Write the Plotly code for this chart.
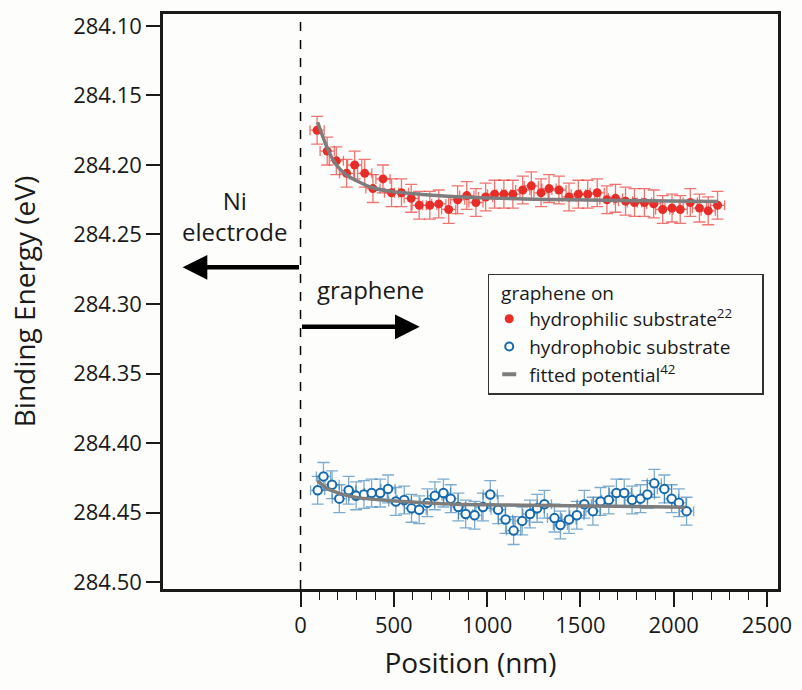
import plotly.graph_objects as go

# ---------------- data ----------------
red_x = [89, 143, 192, 247, 290, 344, 388, 442, 488, 541, 593, 636, 693, 741, 794,
         842, 891, 940, 992, 1040, 1090, 1138, 1191, 1237, 1289, 1332, 1385, 1439,
         1489, 1539, 1590, 1642, 1688, 1742, 1790, 1843, 1893, 1941, 1991, 2035,
         2089, 2138, 2185, 2235]
red_y = [284.175, 284.190, 284.197, 284.206, 284.200, 284.206, 284.217, 284.210,
         284.220, 284.220, 284.224, 284.229, 284.229, 284.228, 284.232, 284.225,
         284.222, 284.227, 284.223, 284.221, 284.221, 284.221, 284.218, 284.215,
         284.220, 284.217, 284.218, 284.223, 284.221, 284.221, 284.220, 284.225,
         284.224, 284.226, 284.227, 284.227, 284.228, 284.232, 284.231, 284.232,
         284.227, 284.231, 284.233, 284.229]
red_err_y = 0.010
red_err_x = 38

blue_x = [92, 123, 169, 208, 258, 298, 340, 381, 427, 469, 511, 556, 595, 636, 680,
          720, 766, 805, 846, 885, 933, 978, 1017, 1059, 1099, 1142, 1188, 1230,
          1268, 1307, 1361, 1393, 1439, 1481, 1521, 1567, 1608, 1652, 1693, 1735,
          1777, 1822, 1859, 1896, 1950, 1989, 2028, 2069]
blue_y = [284.434, 284.424, 284.430, 284.440, 284.434, 284.438, 284.437, 284.436,
          284.436, 284.433, 284.442, 284.441, 284.447, 284.448, 284.443, 284.438,
          284.436, 284.440, 284.446, 284.451, 284.452, 284.446, 284.437, 284.448,
          284.455, 284.463, 284.456, 284.451, 284.447, 284.444, 284.454, 284.459,
          284.455, 284.452, 284.444, 284.449, 284.442, 284.441, 284.436, 284.436,
          284.441, 284.440, 284.437, 284.429, 284.433, 284.440, 284.443, 284.449]
blue_err_y = 0.010
blue_err_x = 38

fit_red_x = [92, 119, 155, 191, 244, 298, 386, 475, 653, 832, 1010, 1330, 1700, 2238]
fit_red_y = [284.1693, 284.1795, 284.1914, 284.1998, 284.2069, 284.2112, 284.2164,
             284.2188, 284.2212, 284.2229, 284.2238, 284.2248, 284.2255, 284.2262]
fit_blue_x = [92, 137, 208, 298, 475, 653, 832, 1099, 1330, 1700, 2060]
fit_blue_y = [284.4270, 284.4324, 284.4362, 284.4391, 284.4414, 284.4429, 284.4440,
              284.4445, 284.4450, 284.4455, 284.4462]

x_ticks = [0, 500, 1000, 1500, 2000, 2500]
x_minor_ticks = [100, 200, 300, 400, 600, 700, 800, 900, 1100, 1200, 1300, 1400,
                 1600, 1700, 1800, 1900, 2100, 2200, 2300, 2400]
y_ticks = [284.10, 284.15, 284.20, 284.25, 284.30, 284.35, 284.40, 284.45, 284.50]

RED = "rgb(232,45,40)"
RED_ERR = "rgba(232,45,40,0.65)"
BLUE = "rgb(22,105,172)"
BLUE_ERR = "rgba(22,105,172,0.55)"
GRAY = "rgb(125,125,125)"
FONT = "Open Sans"
INK = "#1a1a1a"

fig = go.Figure()

# data traces
fig.add_trace(go.Scatter(
    x=red_x, y=red_y, mode="markers", showlegend=False,
    marker=dict(color=RED, size=9, line=dict(width=0)),
    error_y=dict(type="constant", value=red_err_y, color=RED_ERR, thickness=1.3, width=6),
    error_x=dict(type="constant", value=red_err_x, color=RED_ERR, thickness=1.3, width=5),
))
fig.add_trace(go.Scatter(
    x=blue_x, y=blue_y, mode="markers", showlegend=False,
    marker=dict(color="white", size=8.5, line=dict(color=BLUE, width=2)),
    error_y=dict(type="constant", value=blue_err_y, color=BLUE_ERR, thickness=1.3, width=6),
    error_x=dict(type="constant", value=blue_err_x, color=BLUE_ERR, thickness=1.3, width=5),
))
fig.add_trace(go.Scatter(
    x=fit_red_x, y=fit_red_y, mode="lines", line=dict(color=GRAY, width=3.5, shape="spline"),
    showlegend=False))
fig.add_trace(go.Scatter(
    x=fit_blue_x, y=fit_blue_y, mode="lines", line=dict(color=GRAY, width=3.5, shape="spline"),
    showlegend=False))

# legend-only entries
fig.add_trace(go.Scatter(
    x=[None], y=[None], mode="markers",
    name="hydrophilic substrate<sup>22</sup>&nbsp;&nbsp;&nbsp;&nbsp;&nbsp;",
    legendgroup="a", marker=dict(color=RED, size=9)))
fig.add_trace(go.Scatter(
    x=[None], y=[None], mode="markers", name="hydrophobic substrate",
    legendgroup="b", marker=dict(color="white", size=8, line=dict(color=BLUE, width=2))))
fig.add_trace(go.Scatter(
    x=[None], y=[None], mode="markers", name="fitted potential<sup>42</sup>",
    legendgroup="c", marker=dict(symbol="line-ew-open", size=10, color=GRAY,
                                 line=dict(color=GRAY, width=4))))

# dashed line at x = 0
fig.add_shape(type="line", xref="x", yref="paper", x0=0, x1=0, y0=0, y1=1,
              line=dict(color="black", width=1.5, dash="dash"))

# arrows
fig.add_annotation(x=-632, y=284.2736, ax=0, ay=284.2736, xref="x", yref="y",
                   axref="x", ayref="y", text="", showarrow=True,
                   arrowhead=2, arrowsize=1.1, arrowwidth=4.5, arrowcolor="black")
fig.add_annotation(x=639, y=284.3164, ax=0, ay=284.3164, xref="x", yref="y",
                   axref="x", ayref="y", text="", showarrow=True,
                   arrowhead=2, arrowsize=1.1, arrowwidth=4.5, arrowcolor="black")
fig.add_annotation(x=-353, y=284.2365, xref="x", yref="y", text="Ni<br>electrode",
                   showarrow=False, font=dict(family=FONT, size=24, color=INK))
fig.add_annotation(x=374, y=284.2895, xref="x", yref="y", text="graphene",
                   showarrow=False, font=dict(family=FONT, size=24, color=INK))

fig.update_layout(
    width=802, height=690,
    margin=dict(l=163, r=22, t=10, b=101),
    paper_bgcolor="#fdfdfb", plot_bgcolor="#fdfdfb",
    font=dict(family=FONT, color=INK),
    legend=dict(
        x=0.528, y=0.5483, xanchor="left", yanchor="top",
        bgcolor="#fdfdfb", bordercolor="#333333", borderwidth=1.5,
        font=dict(family=FONT, size=19, color=INK),
        title=dict(text="&nbsp;&nbsp;graphene on", font=dict(family=FONT, size=19, color=INK)),
        traceorder="grouped", tracegroupgap=0,
    ),
    xaxis=dict(
        range=[-737, 2559], tickmode="array", tickvals=x_ticks,
        ticktext=[str(v) for v in x_ticks],
        ticks="outside", ticklen=15, tickwidth=1.5, tickcolor=INK,
        minor=dict(tickmode="array", tickvals=x_minor_ticks, ticks="outside",
                   ticklen=8, tickwidth=1.2, tickcolor=INK, showgrid=False),
        showline=True, linewidth=2.5, linecolor=INK, mirror=True,
        showgrid=False, zeroline=False,
        tickfont=dict(family=FONT, size=22),
        title=dict(text="Position (nm)", font=dict(family=FONT, size=28), standoff=16),
    ),
    yaxis=dict(
        range=[284.505, 284.0914], tickmode="array", tickvals=y_ticks,
        ticktext=[f"{v:.2f}" for v in y_ticks],
        ticks="outside", ticklen=14, tickwidth=1.5, tickcolor=INK,
        showline=True, linewidth=2.5, linecolor=INK, mirror=True,
        showgrid=False, zeroline=False,
        tickfont=dict(family=FONT, size=22),
        title=dict(text="Binding Energy (eV)", font=dict(family=FONT, size=28), standoff=30),
    ),
)

fig.write_html("out.html", config={"displayModeBar": False},
               post_script="document.body.style.margin='0';document.body.style.overflow='hidden';")
